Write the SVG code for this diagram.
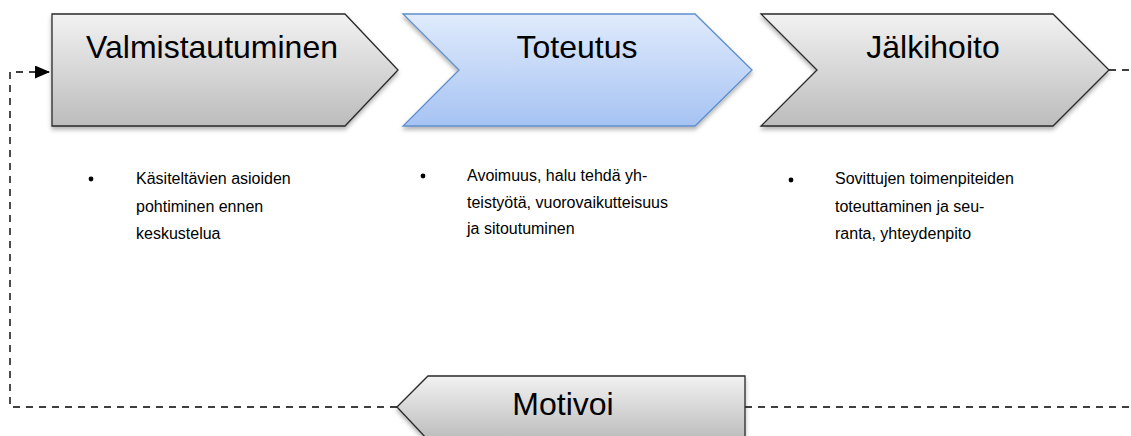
<svg xmlns="http://www.w3.org/2000/svg" width="1131" height="436" viewBox="0 0 1131 436">
  <style>
    .head { font-family: "Liberation Sans", Arial, sans-serif; font-size: 32px; fill: #000; text-anchor: middle; }
    .body { font-family: "Liberation Sans", Arial, sans-serif; font-size: 16px; fill: #000; }
    .grey { fill: url(#gGrey); stroke: #2a2a2a; stroke-width: 1.3; filter: url(#shadow); }
    .blue { fill: url(#gBlue); stroke: #5f8ecb; stroke-width: 1.3; filter: url(#shadow); }
    .dash { fill: none; stroke: #000; stroke-width: 1.4; stroke-dasharray: 7 6; }
  </style>
  <defs>
    <linearGradient id="gGrey" x1="0" y1="0" x2="0" y2="1">
      <stop offset="0" stop-color="#f2f2f2"/>
      <stop offset="1" stop-color="#bcbcbc"/>
    </linearGradient>
    <linearGradient id="gBlue" x1="0" y1="0" x2="0" y2="1">
      <stop offset="0" stop-color="#e0ebfc"/>
      <stop offset="1" stop-color="#a6c3f3"/>
    </linearGradient>
    <filter id="shadow" x="-5%" y="-10%" width="110%" height="130%">
      <feDropShadow dx="0" dy="3" stdDeviation="2" flood-color="#000" flood-opacity="0.3"/>
    </filter>
    <marker id="arrow" viewBox="0 0 15 13" refX="15" refY="6.5" markerWidth="15" markerHeight="13" markerUnits="userSpaceOnUse" orient="auto">
      <path d="M0,0 L15,6.5 L0,13 Z" fill="#000"/>
    </marker>
  </defs>

  <!-- feedback loop connectors -->
  <g id="connectors">
    <path class="dash" d="M397,407 H10 V72 H50" marker-end="url(#arrow)"/>
    <path class="dash" d="M1109,70 H1131"/>
    <path class="dash" d="M745,407 H1131"/>
  </g>

  <g id="valmistautuminen">
    <polygon class="grey" points="52,14 345,14 398,70 345,126 52,126"/>
    <text class="head" x="212" y="58">Valmistautuminen</text>
  </g>

  <g id="toteutus">
    <polygon class="blue" points="403,14 695,14 752,70 695,126 403,126 459,70"/>
    <text class="head" x="577" y="58">Toteutus</text>
  </g>

  <g id="jalkihoito">
    <polygon class="grey" points="761,14 1053,14 1109,70 1053,126 761,126 817,70"/>
    <text class="head" x="933" y="58">Jälkihoito</text>
  </g>

  <g id="motivoi">
    <polygon class="grey" points="397,407 428,376 745,376 745,440 428,440"/>
    <text class="head" x="563" y="415">Motivoi</text>
  </g>

  <g id="notes-valmistautuminen">
    <circle cx="91" cy="179" r="2.4" fill="#000"/>
    <text class="body" x="136" y="184">Käsiteltävien asioiden</text>
    <text class="body" x="136" y="211.5">pohtiminen ennen</text>
    <text class="body" x="136" y="239">keskustelua</text>
  </g>

  <g id="notes-toteutus">
    <circle cx="423" cy="176" r="2.4" fill="#000"/>
    <text class="body" x="467" y="181">Avoimuus, halu tehdä yh-</text>
    <text class="body" x="467" y="207.5">teistyötä, vuorovaikutteisuus</text>
    <text class="body" x="467" y="234">ja sitoutuminen</text>
  </g>

  <g id="notes-jalkihoito">
    <circle cx="791" cy="180" r="2.4" fill="#000"/>
    <text class="body" x="835" y="184">Sovittujen toimenpiteiden</text>
    <text class="body" x="835" y="211.5">toteuttaminen ja seu-</text>
    <text class="body" x="835" y="239">ranta, yhteydenpito</text>
  </g>
</svg>
